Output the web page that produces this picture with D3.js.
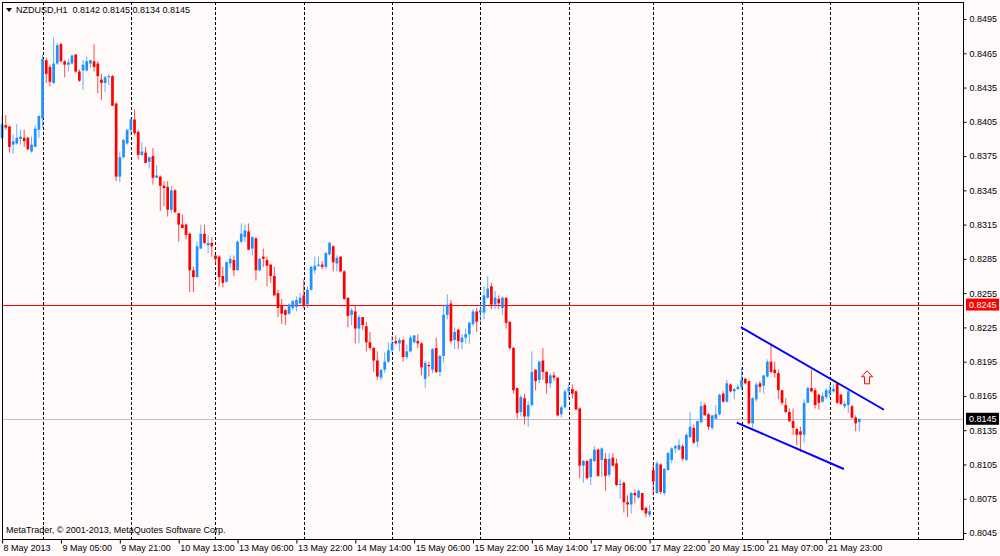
<!DOCTYPE html>
<html>
<head>
<meta charset="utf-8">
<script src="https://cdn.jsdelivr.net/npm/d3@7"></script>
<style>
  body { margin: 0; background: #fffafa; }
  text { font-family: "Liberation Sans", Arial, sans-serif; }
</style>
</head>
<body>
<div id="chart"></div>
<script>
const W = 1000, H = 556;
const plot = {left: 2, top: 2, right: 963, bottom: 539};

// hourly NZDUSD bars: [open, high, low, close]
const candles = [
  [.8391,.8410,.8390,.8403],[.8402,.8411,.8398,.8400],[.8401,.8401,.8378,.8383],[.8385,.8394,.8377,.8388],
  [.8386,.8403,.8385,.8391],[.8390,.8398,.8385,.8392],[.8391,.8398,.8383,.8388],[.8391,.8392,.8380,.8381],
  [.8379,.8392,.8378,.8385],[.8383,.8402,.8383,.8399],[.8398,.8411,.8391,.8410],[.8408,.8464,.8400,.8460],
  [.8459,.8461,.8439,.8447],[.8453,.8455,.8436,.8440],[.8439,.8479,.8438,.8456],[.8456,.8474,.8455,.8472],
  [.8473,.8474,.8457,.8458],[.8458,.8459,.8444,.8455],[.8455,.8460,.8449,.8457],[.8456,.8464,.8455,.8463],
  [.8464,.8464,.8448,.8449],[.8449,.8451,.8440,.8441],[.8450,.8459,.8433,.8455],[.8450,.8462,.8449,.8458],
  [.8456,.8459,.8452,.8459],[.8458,.8473,.8449,.8453],[.8456,.8458,.8430,.8445],[.8442,.8447,.8424,.8439],
  [.8439,.8445,.8431,.8444],[.8444,.8447,.8437,.8445],[.8445,.8446,.8419,.8419],[.8421,.8422,.8353,.8357],
  [.8357,.8379,.8352,.8374],[.8374,.8390,.8373,.8389],[.8386,.8398,.8385,.8398],[.8398,.8408,.8393,.8407],
  [.8407,.8416,.8393,.8395],[.8396,.8398,.8372,.8376],[.8376,.8387,.8375,.8379],[.8378,.8383,.8369,.8369],
  [.8370,.8374,.8364,.8374],[.8375,.8382,.8350,.8356],[.8356,.8367,.8356,.8358],[.8357,.8358,.8327,.8349],
  [.8349,.8353,.8331,.8347],[.8348,.8353,.8322,.8328],[.8328,.8349,.8325,.8345],[.8345,.8346,.8325,.8326],
  [.8325,.8325,.8300,.8315],[.8315,.8324,.8312,.8312],[.8315,.8316,.8302,.8306],[.8307,.8308,.8256,.8275],
  [.8275,.8278,.8256,.8269],[.8269,.8300,.8269,.8296],[.8294,.8315,.8294,.8307],[.8307,.8315,.8298,.8299],
  [.8297,.8306,.8290,.8299],[.8299,.8304,.8287,.8296],[.8288,.8288,.8280,.8285],[.8287,.8288,.8261,.8269],
  [.8270,.8278,.8260,.8264],[.8265,.8283,.8264,.8282],[.8281,.8288,.8277,.8285],[.8284,.8288,.8270,.8275],
  [.8275,.8301,.8275,.8300],[.8300,.8316,.8299,.8307],[.8304,.8315,.8300,.8310],[.8309,.8316,.8293,.8293],
  [.8294,.8305,.8288,.8304],[.8303,.8304,.8266,.8275],[.8275,.8286,.8274,.8285],[.8287,.8294,.8278,.8285],
  [.8284,.8287,.8261,.8279],[.8280,.8280,.8264,.8270],[.8270,.8278,.8253,.8253],[.8255,.8258,.8234,.8242],
  [.8244,.8250,.8228,.8237],[.8240,.8241,.8227,.8236],[.8237,.8246,.8236,.8245],[.8242,.8249,.8240,.8248],
  [.8243,.8252,.8239,.8249],[.8246,.8255,.8245,.8251],[.8253,.8267,.8242,.8244],[.8245,.8261,.8242,.8258],
  [.8258,.8279,.8257,.8278],[.8275,.8287,.8272,.8279],[.8279,.8287,.8278,.8280],[.8280,.8283,.8276,.8278],
  [.8278,.8291,.8276,.8290],[.8289,.8300,.8288,.8299],[.8296,.8297,.8274,.8282],[.8281,.8288,.8274,.8286],
  [.8287,.8287,.8273,.8274],[.8274,.8275,.8249,.8250],[.8251,.8251,.8225,.8235],[.8236,.8242,.8227,.8240],
  [.8239,.8244,.8211,.8224],[.8224,.8236,.8211,.8234],[.8234,.8234,.8223,.8227],[.8226,.8230,.8204,.8212],
  [.8212,.8221,.8205,.8207],[.8207,.8208,.8186,.8196],[.8196,.8204,.8179,.8182],[.8181,.8188,.8179,.8188],
  [.8188,.8203,.8185,.8195],[.8195,.8212,.8194,.8205],[.8205,.8218,.8203,.8211],[.8213,.8218,.8210,.8211],
  [.8211,.8216,.8204,.8214],[.8214,.8215,.8195,.8199],[.8199,.8210,.8197,.8204],[.8204,.8218,.8203,.8216],
  [.8212,.8218,.8211,.8218],[.8213,.8219,.8207,.8211],[.8211,.8212,.8183,.8190],[.8180,.8196,.8172,.8194],
  [.8192,.8195,.8182,.8191],[.8188,.8207,.8185,.8206],[.8207,.8216,.8185,.8186],[.8186,.8201,.8182,.8200],
  [.8200,.8245,.8194,.8236],[.8236,.8254,.8232,.8245],[.8246,.8249,.8211,.8213],[.8214,.8225,.8206,.8221],
  [.8223,.8224,.8206,.8213],[.8212,.8219,.8206,.8216],[.8216,.8224,.8211,.8219],[.8219,.8230,.8211,.8229],
  [.8228,.8241,.8226,.8239],[.8239,.8242,.8221,.8230],[.8238,.8246,.8230,.8240],[.8238,.8261,.8232,.8253],
  [.8251,.8270,.8250,.8259],[.8261,.8264,.8241,.8245],[.8245,.8257,.8241,.8251],[.8250,.8253,.8241,.8246],
  [.8242,.8252,.8236,.8251],[.8251,.8251,.8224,.8229],[.8230,.8230,.8205,.8207],[.8207,.8208,.8167,.8170],
  [.8172,.8172,.8145,.8150],[.8151,.8166,.8147,.8164],[.8163,.8167,.8140,.8147],[.8147,.8160,.8138,.8157],
  [.8157,.8204,.8156,.8186],[.8188,.8188,.8170,.8178],[.8179,.8196,.8176,.8195],[.8196,.8207,.8179,.8186],
  [.8186,.8187,.8167,.8176],[.8176,.8185,.8172,.8183],[.8183,.8186,.8178,.8181],[.8181,.8181,.8147,.8148],
  [.8149,.8157,.8146,.8155],[.8155,.8171,.8154,.8169],[.8169,.8176,.8162,.8172],[.8171,.8175,.8163,.8167],
  [.8169,.8170,.8153,.8153],[.8154,.8155,.8093,.8104],[.8104,.8109,.8089,.8108],[.8108,.8109,.8092,.8093],
  [.8094,.8110,.8087,.8110],[.8108,.8121,.8107,.8118],[.8118,.8119,.8094,.8095],[.8109,.8120,.8094,.8119],
  [.8110,.8115,.8082,.8095],[.8096,.8115,.8094,.8110],[.8111,.8115,.8103,.8104],[.8106,.8110,.8086,.8087],
  [.8087,.8092,.8075,.8088],[.8089,.8090,.8063,.8072],[.8072,.8078,.8059,.8070],[.8070,.8081,.8062,.8080],
  [.8080,.8083,.8071,.8078],[.8076,.8083,.8075,.8082],[.8080,.8080,.8065,.8065],[.8067,.8068,.8059,.8062],
  [.8061,.8070,.8059,.8064],[.8100,.8107,.8078,.8090],[.8080,.8108,.8079,.8106],[.8105,.8106,.8079,.8081],
  [.8080,.8102,.8078,.8101],[.8100,.8116,.8100,.8115],[.8109,.8120,.8106,.8119],[.8119,.8122,.8115,.8121],
  [.8118,.8127,.8117,.8122],[.8121,.8123,.8108,.8110],[.8109,.8132,.8108,.8131],[.8129,.8151,.8128,.8138],
  [.8137,.8140,.8123,.8124],[.8125,.8143,.8120,.8143],[.8142,.8160,.8141,.8156],[.8157,.8159,.8148,.8148],
  [.8149,.8150,.8135,.8138],[.8137,.8148,.8135,.8148],[.8145,.8157,.8145,.8149],[.8149,.8167,.8148,.8166],
  [.8167,.8169,.8159,.8160],[.8160,.8179,.8159,.8176],[.8175,.8176,.8168,.8169],[.8169,.8172,.8162,.8171],
  [.8171,.8175,.8170,.8173],[.8173,.8190,.8170,.8179],[.8180,.8181,.8175,.8176],[.8178,.8178,.8140,.8141],
  [.8141,.8164,.8137,.8163],[.8162,.8177,.8160,.8175],[.8176,.8178,.8168,.8173],[.8174,.8183,.8167,.8183],
  [.8182,.8197,.8181,.8195],[.8195,.8211,.8185,.8186],[.8188,.8195,.8181,.8185],[.8185,.8188,.8162,.8170],
  [.8170,.8170,.8157,.8159],[.8157,.8163,.8150,.8151],[.8151,.8154,.8142,.8143],[.8143,.8154,.8131,.8137],
  [.8136,.8137,.8122,.8131],[.8134,.8138,.8116,.8131],[.8131,.8162,.8124,.8159],[.8159,.8173,.8159,.8172],
  [.8172,.8188,.8168,.8169],[.8170,.8172,.8154,.8157],[.8166,.8167,.8153,.8159],[.8160,.8168,.8159,.8165],
  [.8164,.8172,.8162,.8170],[.8167,.8176,.8163,.8170],[.8169,.8175,.8168,.8171],[.8176,.8177,.8158,.8159],
  [.8166,.8167,.8157,.8158],[.8156,.8160,.8154,.8158],[.8157,.8170,.8150,.8169],[.8156,.8157,.8145,.8146],
  [.8146,.8148,.8134,.8141],[.8142,.8145,.8134,.8145]
];

const timeLabels = ["8 May 2013", "9 May 05:00", "9 May 21:00", "10 May 13:00", "13 May 06:00",
  "13 May 22:00", "14 May 14:00", "15 May 06:00", "15 May 22:00", "16 May 14:00", "17 May 06:00",
  "17 May 22:00", "20 May 15:00", "21 May 07:00", "21 May 23:00"];
const labelBars = timeLabels.map((d, i) => i * 16);
const dayBars = [11, 35, 58, 82, 106, 130, 154, 177, 201, 225, 249];
const priceTicks = [0.8495, 0.8465, 0.8435, 0.8405, 0.8375, 0.8345, 0.8315, 0.8285,
  0.8255, 0.8225, 0.8195, 0.8165, 0.8135, 0.8105, 0.8075, 0.8045];

const symbol = "NZDUSD,H1";
const levelLine = 0.8245;
// trend channel drawn on the chart: [bar, price] end points
const upperTrend = [[200.8, 0.82252], [239.7, 0.81529]];
const lowerTrend = [[199.7, 0.81417], [228.8, 0.81010]];
const arrowMark = [235.1, 0.8187];

const upColor = "#1e90ff", downColor = "#ff0000";

const svg = d3.select("#chart").append("svg")
    .attr("width", W)
    .attr("height", H)
    .style("background", "#fffafa");

const x = d3.scaleLinear()
    .domain([0, candles.length - 1])
    .range([2.1, 2.1 + 3.679 * (candles.length - 1)]);

const y = d3.scaleLinear()
    .domain([0.8045, 0.8495])
    .range([533, 19]);

const fmt = d3.format(".4f");

// daily separators
svg.append("g")
    .selectAll("line")
    .data(dayBars)
    .enter()
    .append("line")
    .attr("x1", d => Math.round(x(d)) + 0.5)
    .attr("x2", d => Math.round(x(d)) + 0.5)
    .attr("y1", plot.top)
    .attr("y2", plot.bottom)
    .attr("stroke", "#000")
    .attr("stroke-dasharray", "3,2");

// horizontal level + bid line
svg.append("line")
    .attr("x1", plot.left).attr("x2", plot.right)
    .attr("y1", Math.round(y(levelLine)) + 0.5).attr("y2", Math.round(y(levelLine)) + 0.5)
    .attr("stroke", "#ff0000");

const last = candles[candles.length - 1];
svg.append("line")
    .attr("x1", plot.left).attr("x2", plot.right)
    .attr("y1", Math.round(y(last[3])) + 0.5).attr("y2", Math.round(y(last[3])) + 0.5)
    .attr("stroke", "#c0c0c0");

// candles
const bars = svg.append("g")
    .selectAll("g")
    .data(candles)
    .enter()
    .append("g");

bars.append("line")
    .attr("x1", (d, i) => x(i))
    .attr("x2", (d, i) => x(i))
    .attr("y1", d => y(d[1]))
    .attr("y2", d => y(d[2]))
    .attr("stroke", d => d[3] >= d[0] ? upColor : downColor)
    .attr("stroke-opacity", 0.7)
    .attr("stroke-width", 1);

bars.append("rect")
    .attr("x", (d, i) => x(i) - 1.35)
    .attr("width", 2.7)
    .attr("y", d => y(Math.max(d[0], d[3])))
    .attr("height", d => Math.max(1, Math.abs(y(d[0]) - y(d[3]))))
    .attr("fill", d => d[3] >= d[0] ? upColor : downColor);

// trend channel
const line = d3.line().x(d => x(d[0])).y(d => y(d[1]));
[upperTrend, lowerTrend].forEach(function (t) {
    svg.append("path")
        .attr("d", line(t))
        .attr("stroke", "#0000ff")
        .attr("stroke-width", 2)
        .attr("fill", "none");
});

// up arrow
const ax = x(arrowMark[0]), ay = y(arrowMark[1]);
svg.append("path")
    .attr("transform", `translate(${ax},${ay})`)
    .attr("d", "M0,0 L5.5,6 L2.5,6 L2.5,13 L-2.5,13 L-2.5,6 L-5.5,6 Z")
    .attr("fill", "#fffafa")
    .attr("stroke", "#ff0000")
    .attr("stroke-width", 1);

// frame
svg.append("rect")
    .attr("x", plot.left + 0.5)
    .attr("y", plot.top + 0.5)
    .attr("width", plot.right - plot.left)
    .attr("height", plot.bottom - plot.top)
    .attr("fill", "none")
    .attr("stroke", "#000");

// price axis
const yAxis = svg.append("g")
    .attr("transform", `translate(${plot.right + 0.5}, 0)`)
    .call(d3.axisRight(y).tickValues(priceTicks).tickSize(3).tickPadding(3).tickFormat(fmt));
yAxis.select(".domain").remove();
yAxis.selectAll("text").attr("font-size", 9).attr("font-family", "Liberation Sans, Arial, sans-serif").attr("fill", "#000");

function priceTag(price, bg) {
    const g = svg.append("g").attr("transform", `translate(966, ${y(price)})`);
    g.append("rect").attr("x", 0).attr("y", -6).attr("width", 33).attr("height", 12).attr("fill", bg);
    g.append("text").attr("x", 3).attr("y", 3.5).attr("font-size", 9).attr("fill", "#fff").text(fmt(price));
}
priceTag(levelLine, "#ff0000");
priceTag(last[3], "#000");

// time axis
const xAxis = svg.append("g")
    .attr("transform", `translate(0, ${plot.bottom + 0.5})`)
    .call(d3.axisBottom(x).tickValues(labelBars).tickSize(4).tickPadding(1)
        .tickFormat((d, i) => timeLabels[i]));
xAxis.select(".domain").remove();
xAxis.selectAll("text")
    .attr("text-anchor", "start")
    .attr("dx", 1)
    .attr("font-size", 9)
    .attr("font-family", "Liberation Sans, Arial, sans-serif")
    .attr("fill", "#000");

// header + copyright
svg.append("path")
    .attr("d", "M6,8 L12,8 L9,12 Z")
    .attr("fill", "#000");
svg.append("text")
    .attr("x", 16)
    .attr("y", 13)
    .attr("font-size", 9)
    .attr("xml:space", "preserve")
    .style("white-space", "pre")
    .text(`${symbol}  ${fmt(last[0])} ${fmt(last[1])} ${fmt(last[2])} ${fmt(last[3])}`);

svg.append("text")
    .attr("x", 6)
    .attr("y", 533)
    .attr("font-size", 9)
    .text("MetaTrader, © 2001-2013, MetaQuotes Software Corp.");
</script>
</body>
</html>
